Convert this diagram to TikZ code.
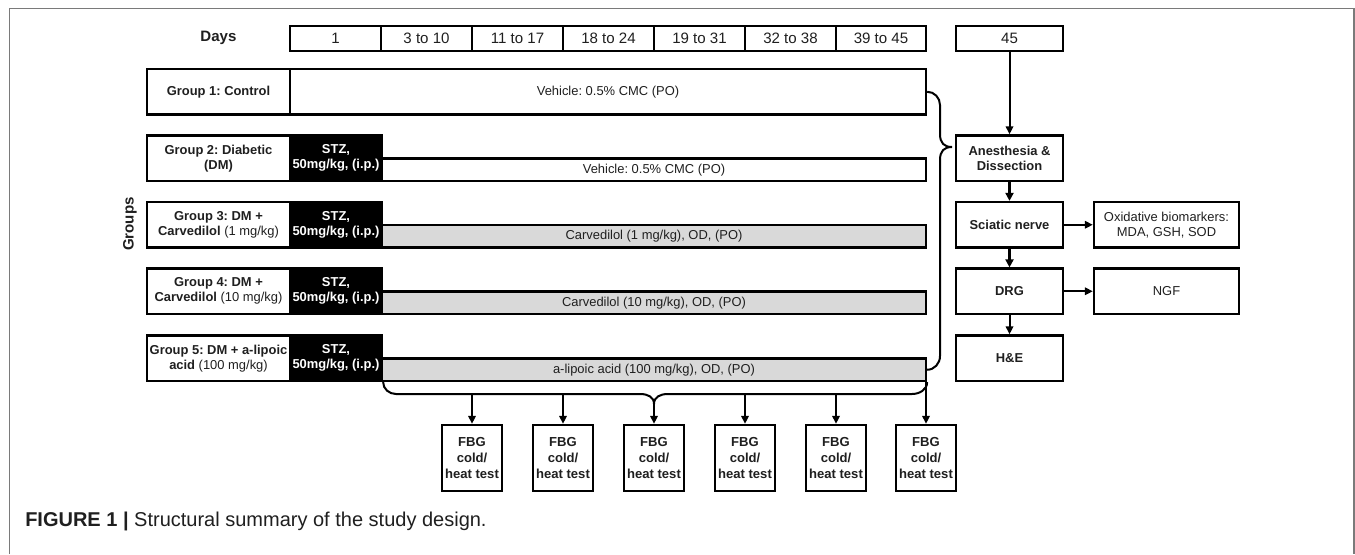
\documentclass[tikz,border=0pt]{standalone}
\usepackage{fontspec}
\setmainfont{Liberation Sans}
\usetikzlibrary{arrows.meta,calc}
\frenchspacing
\newcommand\fn{\fontsize{9.7pt}{11.3pt}\selectfont}
\newcommand\fnb{\fontsize{9.8pt}{12pt}\selectfont\bfseries}
\newcommand\fd{\fontsize{11.3pt}{13pt}\selectfont}
\newcommand\fcap{\fontsize{15pt}{18pt}\selectfont}
\definecolor{txt}{HTML}{1F1F1F}
\definecolor{bargray}{HTML}{D9D9D9}
\definecolor{framegray}{HTML}{7A7A7A}
\begin{document}
\frenchspacing
\begin{tikzpicture}[x=0.75pt,y=-0.75pt,
  rect/.style n args={4}{at={({((#1)+(#3))/2},{((#2)+(#4))/2})},
     minimum width={((#3)-(#1))*0.75pt}, minimum height={((#4)-(#2))*0.75pt}},
  box/.style={draw, line width=1.7pt, inner sep=0pt, align=center, font=\fn, text=txt},
  daycell/.style={box, font=\fd},
  stz/.style={box, fill=black, text=white, font=\fn\bfseries},
  graybar/.style={box, fill=bargray},
  fbg/.style={box, font=\fnb},
  conn/.style={line width=1.5pt},
  arr/.style={conn, -{Triangle[length=6pt,width=5.5pt]}},
  tarr/.style={line width=2.2pt, -{Triangle[length=6pt,width=6pt]}},
]
\useasboundingbox (0,0) rectangle (1355,554);
% frame
\draw[framegray, line width=1.2pt] (9.5,554) -- (9.5,8.5) -- (1353.8,8.5) -- (1353.8,554);

% days row
\node[font=\fd\bfseries, text=txt] (days) at (218.5,38) {Days};
\node[daycell, rect={290}{26}{381}{51}] (d1) {1};
\node[daycell, rect={381}{26}{472}{51}] (d2) {3 to 10};
\node[daycell, rect={472}{26}{563}{51}] (d3) {11 to 17};
\node[daycell, rect={563}{26}{654}{51}] (d4) {18 to 24};
\node[daycell, rect={654}{26}{745}{51}] (d5) {19 to 31};
\node[daycell, rect={745}{26}{836}{51}] (d6) {32 to 38};
\node[daycell, rect={836}{26}{926}{51}] (d7) {39 to 45};
\node[daycell, rect={956}{26}{1063}{51}] (d45) {45};

\node[font=\fd\bfseries, rotate=90, text=txt] (groups) at (130,224) {Groups};

% group 1
\node[box, rect={147}{69}{290}{114.5}] (g1l) {\textbf{Group 1: Control}};
\node[box, rect={290}{69}{926}{114.5}] (g1v) {Vehicle: 0.5\% CMC (PO)};
% group 2
\node[box, rect={147}{135.5}{290}{181}] (g2l) {\textbf{Group 2: Diabetic}\\\textbf{(DM)}};
\node[stz, rect={290}{135.5}{382}{181}] (s2) {STZ,\\50mg/kg, (i.p.)};
\node[box, rect={382}{158.5}{926}{181}] (b2) {Vehicle: 0.5\% CMC (PO)};
% group 3
\node[box, rect={147}{202}{290}{247.5}] (g3l) {\textbf{Group 3: DM +}\\\textbf{Carvedilol} (1 mg/kg)};
\node[stz, rect={290}{202}{382}{247.5}] (s3) {STZ,\\50mg/kg, (i.p.)};
\node[graybar, rect={382}{225}{926}{247.5}] (b3) {Carvedilol (1 mg/kg), OD, (PO)};
% group 4
\node[box, rect={147}{268.5}{290}{314}] (g4l) {\textbf{Group 4: DM +}\\\textbf{Carvedilol} (10 mg/kg)};
\node[stz, rect={290}{268.5}{382}{314}] (s4) {STZ,\\50mg/kg, (i.p.)};
\node[graybar, rect={382}{291.5}{926}{314}] (b4) {Carvedilol (10 mg/kg), OD, (PO)};
% group 5
\node[box, rect={147}{335.5}{290}{381}] (g5l) {\textbf{Group 5: DM + a-lipoic}\\\textbf{acid} (100 mg/kg)};
\node[stz, rect={290}{335.5}{382}{381}] (s5) {STZ,\\50mg/kg, (i.p.)};
\node[graybar, rect={382}{358.5}{926}{381}] (b5) {a-lipoic acid (100 mg/kg), OD, (PO)};

% right column
\node[box, rect={956}{135.5}{1063}{181}] (an) {\textbf{Anesthesia \&}\\\textbf{Dissection}};
\node[box, rect={956}{202}{1063}{247.5}] (sn) {\textbf{Sciatic nerve}};
\node[box, rect={1094}{202}{1239}{247.5}] (ox) {Oxidative biomarkers:\\MDA, GSH, SOD};
\node[box, rect={956}{268.5}{1063}{314}] (drg) {\textbf{DRG}};
\node[box, rect={1094}{268.5}{1239}{314}] (ngf) {NGF};
\node[box, rect={956}{335.5}{1063}{381}] (he) {\textbf{H\&E}};

\draw[arr] (d45) -- (an);
\draw[tarr] (an) -- (sn);
\draw[tarr] (sn) -- (drg);
\draw[arr] (drg) -- (he);
\draw[arr] (sn) -- (ox);
\draw[arr] (drg) -- (ngf);

% right brace
\draw[conn] (g1v.east) to[out=0,in=90] (940,105) -- (940,134)
  .. controls (940,143) and (944,147) .. (952,147)
  .. controls (944,147) and (940,151) .. (940,160)
  -- (940,356) to[out=-90,in=0] (b5.east);

% FBG boxes
\foreach \x [count=\i] in {472,563,654,745,836,926}
  \node[fbg, rect={\x-30}{425}{\x+30}{491}] (f\i) {FBG\\cold/\\heat test};

% bottom brace
\draw[conn] (s5.south east) to[out=-90,in=180] (396,394) -- (640,394)
  .. controls (648,394) and (654,397) .. (654,404)
  .. controls (654,397) and (660,394) .. (668,394)
  -- (912,394) to[out=0,in=-90] (b5.south east);
\coordinate (t1) at (472,394);
\coordinate (t2) at (563,394);
\coordinate (t3) at (654,404);
\coordinate (t4) at (745,394);
\coordinate (t5) at (836,394);
\draw[arr] (t1) -- (f1);
\draw[arr] (t2) -- (f2);
\draw[arr] (t3) -- (f3);
\draw[arr] (t4) -- (f4);
\draw[arr] (t5) -- (f5);
\draw[arr] (b5.south east -| f6.north) -- (f6.north);

% caption
\node[anchor=west, font=\fcap, text=txt, inner sep=0pt] (cap) at (25,521) {\textbf{FIGURE 1 |} Structural summary of the study design.};
\end{tikzpicture}
\end{document}
